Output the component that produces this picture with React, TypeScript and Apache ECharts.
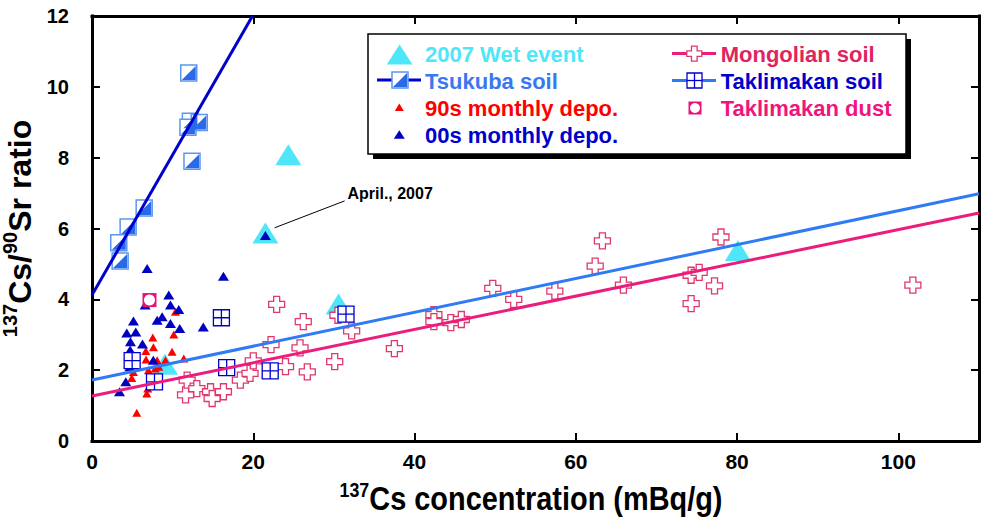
import React, { useEffect, useRef } from 'react';
import * as echarts from 'echarts';

// ---------- data ----------
const wetEvent: [number, number][] = [
  [24.35, 8.08], [21.5, 5.87], [30.58, 3.87], [80.1, 5.38], [9.05, 2.17],
];
const tsukubaSoil: [number, number][] = [
  [12.0, 10.39], [12.2, 9.03], [13.3, 8.99], [11.9, 8.86], [12.4, 7.9],
  [6.47, 6.58], [4.48, 6.04], [3.32, 5.6], [3.49, 5.08],
];
const depo90s: [number, number][] = [
  [5.55, 0.8], [5.14, 1.95], [4.93, 1.78], [6.79, 1.34], [6.92, 1.48], [6.7, 2.3],
  [7.0, 2.0], [6.67, 2.54], [7.62, 2.65], [7.54, 2.92], [7.83, 2.05], [8.08, 2.28],
  [8.28, 2.1], [9.11, 2.28], [9.93, 2.52], [10.14, 3.01], [10.35, 3.65], [11.38, 2.33],
];
const depo00s: [number, number][] = [
  [3.41, 1.39], [4.19, 1.67], [4.7, 2.1], [4.77, 2.8], [4.73, 2.57], [4.31, 3.05],
  [5.43, 3.08], [5.14, 3.39], [6.26, 2.74], [6.59, 3.84], [6.84, 4.87], [7.6, 2.28],
  [8.08, 3.41], [8.7, 3.51], [9.52, 4.12], [9.73, 3.84], [10.76, 3.71], [9.73, 3.32],
  [10.88, 3.18], [13.8, 3.22], [16.3, 4.65], [21.5, 5.8],
];
const mongolianSoil: [number, number][] = [
  [11.6, 1.3], [11.8, 1.72], [13.0, 1.48], [14.7, 1.39], [14.9, 1.2], [16.3, 1.39],
  [18.4, 1.72], [19.6, 1.91], [20.0, 2.26], [22.2, 2.72], [22.9, 3.86], [24.0, 2.1],
  [25.8, 2.63], [26.2, 3.37], [26.7, 1.95], [30.1, 2.24], [30.5, 3.55], [32.2, 3.11],
  [37.5, 2.61], [42.4, 3.57], [42.4, 3.37], [44.5, 3.34], [45.8, 3.43], [49.7, 4.31],
  [52.3, 4.0], [57.4, 4.23], [62.4, 4.94], [63.3, 5.65], [65.9, 4.4], [74.3, 4.68],
  [75.3, 4.76], [74.3, 3.88], [77.2, 4.38], [78.0, 5.76], [101.8, 4.4],
];
const taklimakanSoil: [number, number][] = [
  [4.98, 2.27], [7.75, 1.67], [16.05, 3.48], [16.7, 2.07], [22.1, 1.98], [31.5, 3.58],
];
const taklimakanDust: [number, number][] = [[7.13, 3.98]];

// regression lines (end points)
const tsukubaFit: [number, number][] = [[0, 4.12], [19.9, 12]];
const taklimakanFit: [number, number][] = [[0, 1.72], [110, 6.98]];
const mongolianFit: [number, number][] = [[0, 1.27], [110, 6.44]];

// annotation leader (data coords)
const aprilLeader: [number, number][] = [[22.65, 6.02], [31.33, 6.78]];
const aprilLabel = 'April., 2007';

const xTicks = { min: 0, max: 110, interval: 20 };
const yTicks = { min: 0, max: 12, interval: 2 };

// ---------- styles ----------
const SANS = '"Liberation Sans", Arial, sans-serif';
const C_WET = '#50E6FA';
const C_TSU_LINE = '#0000CC';
const C_TSU_BORDER = '#5A96F4';
const C_TSU_FILL = '#2A6AE8';
const C_RED = '#FF0000';
const C_BLUE = '#0000C0';
const C_MON_LINE = '#EC1C7C';
const C_MON_CROSS = '#E0386C';
const C_TAK_LINE = '#2F7BF5';
const C_TAK_SQ = '#0000CC';
const C_DUST = '#E8127A';

const CROSS = 'path://M5,0L11,0L11,5L16,5L16,11L11,11L11,16L5,16L5,11L0,11L0,5L5,5Z';
const GRIDSQ = 'path://M0,0L16,0L16,16L0,16Z M8,0L8,16 M0,8L16,8';
const HALFTRI = 'path://M16,0L16,16L0,16Z';

export default function App() {
  const ref = useRef<HTMLDivElement>(null);
  useEffect(() => {
    if (!ref.current) return;
    const chart = echarts.init(ref.current, undefined, { renderer: 'svg' });
    const axisLine = { show: true, onZero: false, lineStyle: { color: '#000', width: 3, cap: 'square' } };
    const axisTick = { show: true, inside: true, length: 8, lineStyle: { color: '#000', width: 2 } };

    const crossPts = (cx: number, cy: number, s: number) => {
      const a = s * 5 / 16, b = s * 11 / 16;
      const x0 = cx - s / 2, y0 = cy - s / 2;
      return [[x0 + a, y0], [x0 + b, y0], [x0 + b, y0 + a], [x0 + s, y0 + a], [x0 + s, y0 + b], [x0 + b, y0 + b],
        [x0 + b, y0 + s], [x0 + a, y0 + s], [x0 + a, y0 + b], [x0, y0 + b], [x0, y0 + a], [x0 + a, y0 + a]];
    };
    const txt = (x: number, y: number, text: string, fill: string) => ({
      type: 'text', x, y,
      style: { text, fill, fontSize: 22, fontWeight: 'bold', fontFamily: SANS, align: 'left', verticalAlign: 'middle' },
    });

    const option: any = {
      animation: false,
      backgroundColor: '#fff',
      grid: { left: 92, right: 6, top: 16, bottom: 77, outerBoundsMode: 'none', containLabel: false },
      xAxis: [
        {
          type: 'value', ...xTicks, position: 'bottom',
          axisLine, axisTick, splitLine: { show: false },
          axisLabel: { show: true, showMaxLabel: false, color: '#000', fontSize: 21, fontWeight: 'bold', fontFamily: SANS, margin: 10 },
        },
        {
          type: 'value', ...xTicks, position: 'top',
          axisLine, axisTick, splitLine: { show: false }, axisLabel: { show: false },
        },
      ],
      yAxis: [
        {
          type: 'value', ...yTicks, position: 'left',
          axisLine, axisTick, splitLine: { show: false },
          axisLabel: { show: true, color: '#000', fontSize: 20, fontWeight: 'bold', fontFamily: SANS, margin: 23 },
          name: '{sup|137}{b|Cs/}{sup|90}{b|Sr ratio}', nameLocation: 'middle', nameGap: 51, nameRotate: 90,
          nameTextStyle: {
            rich: {
              b: { fontSize: 32, fontWeight: 'bold', fontFamily: SANS, color: '#000', lineHeight: 36, verticalAlign: 'bottom' },
              sup: { fontSize: 20, fontWeight: 'bold', fontFamily: SANS, color: '#000', lineHeight: 20, verticalAlign: 'top' },
            },
          },
        },
        {
          type: 'value', ...yTicks, position: 'right',
          axisLine, axisTick, splitLine: { show: false }, axisLabel: { show: false },
        },
      ],
      series: [
        { name: 'Tsukuba fit', type: 'line', data: tsukubaFit, symbol: 'none', silent: true, lineStyle: { color: C_TSU_LINE, width: 3 } },
        { name: 'Taklimakan fit', type: 'line', data: taklimakanFit, symbol: 'none', silent: true, lineStyle: { color: C_TAK_LINE, width: 3 } },
        { name: 'Mongolian fit', type: 'line', data: mongolianFit, symbol: 'none', silent: true, lineStyle: { color: C_MON_LINE, width: 3 } },
        {
          name: '2007 Wet event', type: 'scatter', data: wetEvent, symbol: 'triangle', symbolSize: [26, 21],
          itemStyle: { color: C_WET, opacity: 1 },
          markLine: {
            silent: true, symbol: ['none', 'none'], animation: false,
            lineStyle: { color: '#000', width: 1, type: 'solid' },
            label: {
              show: true, position: 'end', formatter: aprilLabel, distance: 3, offset: [0, -6],
              color: '#000', fontSize: 16, fontWeight: 'bold', fontFamily: SANS,
            },
            data: [[{ coord: aprilLeader[0] }, { coord: aprilLeader[1] }]],
          },
        },
        {
          name: 'Mongolian soil', type: 'scatter', data: mongolianSoil, symbol: CROSS, symbolSize: 16,
          itemStyle: { color: '#fff', borderColor: C_MON_CROSS, borderWidth: 1.3, opacity: 1 },
        },
        { name: '90s monthly depo.', type: 'scatter', data: depo90s, symbol: 'triangle', symbolSize: [9, 8], itemStyle: { color: C_RED, opacity: 1 } },
        { name: '00s monthly depo.', type: 'scatter', data: depo00s, symbol: 'triangle', symbolSize: [11, 9], itemStyle: { color: C_BLUE, opacity: 1 } },
        {
          name: 'Tsukuba soil', type: 'scatter', data: tsukubaSoil, symbol: 'rect', symbolSize: 16,
          itemStyle: { color: '#fff', borderColor: C_TSU_BORDER, borderWidth: 1.5, opacity: 1 },
        },
        {
          name: 'Tsukuba soil fill', type: 'scatter', data: tsukubaSoil, symbol: HALFTRI, symbolSize: 14,
          itemStyle: { color: C_TSU_FILL, opacity: 1 },
        },
        {
          name: 'Taklimakan soil', type: 'scatter', data: taklimakanSoil, symbol: GRIDSQ, symbolSize: 16,
          itemStyle: { color: '#fff', borderColor: C_TAK_SQ, borderWidth: 1.3, opacity: 1 },
        },
        { name: 'Taklimakan dust', type: 'scatter', data: taklimakanDust, symbol: 'rect', symbolSize: 14, itemStyle: { color: C_DUST, opacity: 1 } },
        { name: 'Taklimakan dust inner', type: 'scatter', data: taklimakanDust, symbol: 'circle', symbolSize: 11, itemStyle: { color: '#fff', opacity: 1 } },
      ],
      graphic: [
        // x-axis title (condensed look via horizontal scale)
        {
          type: 'text', x: 531, y: 497, scaleX: 0.85,
          style: {
            text: '{sup|137}{t|Cs concentration (mBq/g)}', align: 'center', verticalAlign: 'middle',
            rich: {
              t: { fontSize: 34, fontWeight: 'bold', fontFamily: SANS, fill: '#000', lineHeight: 37, verticalAlign: 'bottom' },
              sup: { fontSize: 21, fontWeight: 'bold', fontFamily: SANS, fill: '#000', lineHeight: 21, verticalAlign: 'top' },
            },
          },
        },
        { type: 'rect', shape: { x: 373, y: 39, width: 538, height: 120 }, style: { fill: '#000' } },
        { type: 'rect', shape: { x: 368, y: 34, width: 538, height: 120 }, style: { fill: '#fff', stroke: '#000', lineWidth: 1.5 } },
        // col 1
        { type: 'polygon', shape: { points: [[399.6, 44.5], [412.5, 64.5], [386.7, 64.5]] }, style: { fill: C_WET } },
        txt(425, 54, '2007 Wet event', C_WET),
        { type: 'line', shape: { x1: 377, y1: 80, x2: 421, y2: 80 }, style: { stroke: C_TSU_LINE, lineWidth: 3 } },
        { type: 'rect', shape: { x: 392, y: 72, width: 16, height: 16 }, style: { fill: '#fff', stroke: C_TSU_BORDER, lineWidth: 1.5 } },
        { type: 'polygon', shape: { points: [[407, 73], [407, 87], [393, 87]] }, style: { fill: C_TSU_FILL } },
        txt(425, 81, 'Tsukuba soil', '#3A78F0'),
        { type: 'polygon', shape: { points: [[399.3, 103.5], [403.8, 111], [394.8, 111]] }, style: { fill: C_RED } },
        txt(425, 108, '90s monthly depo.', '#FF0000'),
        { type: 'polygon', shape: { points: [[399.3, 130.3], [404.8, 138.8], [393.8, 138.8]] }, style: { fill: C_BLUE } },
        txt(425, 135, '00s monthly depo.', '#0000CC'),
        // col 2
        { type: 'line', shape: { x1: 672, y1: 53.5, x2: 716, y2: 53.5 }, style: { stroke: C_MON_LINE, lineWidth: 3 } },
        { type: 'polygon', shape: { points: crossPts(694.3, 53.6, 15) }, style: { fill: '#fff', stroke: C_MON_CROSS, lineWidth: 1.3 } },
        txt(720.7, 54, 'Mongolian soil', '#E0245E'),
        { type: 'line', shape: { x1: 672, y1: 80.5, x2: 716, y2: 80.5 }, style: { stroke: C_TAK_LINE, lineWidth: 3 } },
        { type: 'rect', shape: { x: 687, y: 73, width: 15, height: 15 }, style: { fill: '#fff', stroke: C_TAK_SQ, lineWidth: 1.3 } },
        { type: 'line', shape: { x1: 694.5, y1: 73, x2: 694.5, y2: 88 }, style: { stroke: C_TAK_SQ, lineWidth: 1.3 } },
        { type: 'line', shape: { x1: 687, y1: 80.5, x2: 702, y2: 80.5 }, style: { stroke: C_TAK_SQ, lineWidth: 1.3 } },
        txt(720.7, 81, 'Taklimakan soil', '#0000CC'),
        { type: 'rect', shape: { x: 688.5, y: 101.5, width: 13, height: 13 }, style: { fill: C_DUST } },
        { type: 'circle', shape: { cx: 695, cy: 108, r: 5 }, style: { fill: '#fff' } },
        txt(720.7, 108, 'Taklimakan dust', '#F0147D'),
      ],
    };
    chart.setOption(option);
    return () => chart.dispose();
  }, []);
  return (
    <div
      ref={ref}
      style={{ position: 'fixed', left: 0, top: 0, width: 985, height: 518, background: '#fff' }}
    />
  );
}
